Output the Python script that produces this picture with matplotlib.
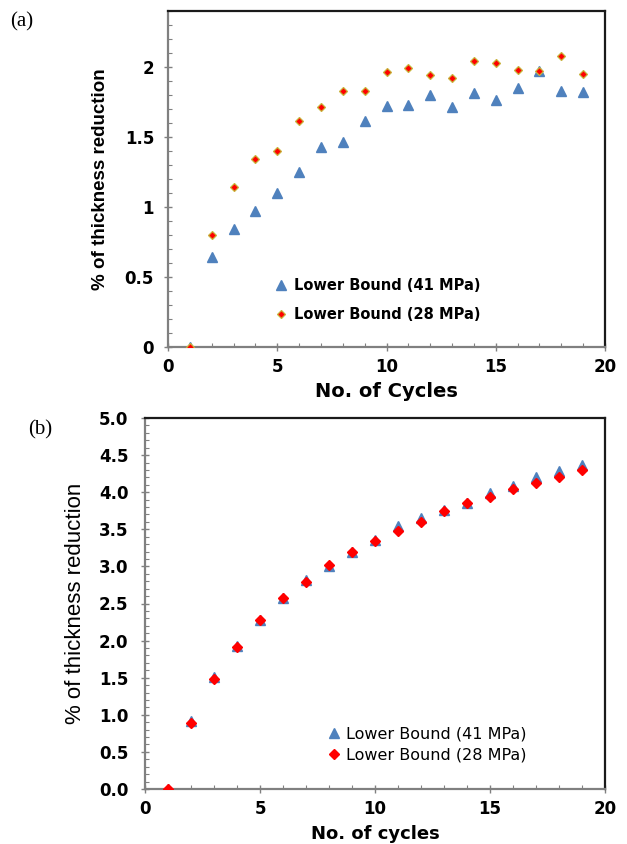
import matplotlib
matplotlib.use("Agg")
import matplotlib.pyplot as plt
from matplotlib.ticker import MultipleLocator

plt.rcParams['font.family'] = ['DejaVu Sans']

cycles = list(range(1, 20))

# Panel (a)
a_41 = [0.0, 0.64, 0.84, 0.97, 1.10, 1.25, 1.43, 1.46, 1.61, 1.72, 1.73, 1.80,
        1.71, 1.81, 1.76, 1.85, 1.97, 1.83, 1.82]
a_28 = [0.0, 0.80, 1.14, 1.34, 1.40, 1.61, 1.71, 1.83, 1.83, 1.96, 1.99, 1.94,
        1.92, 2.04, 2.03, 1.98, 1.97, 2.08, 1.95]

# Panel (b)
b_41 = [0.0, 0.91, 1.51, 1.93, 2.28, 2.57, 2.82, 3.00, 3.19, 3.35, 3.54, 3.65,
        3.76, 3.86, 3.99, 4.08, 4.20, 4.28, 4.36]
b_28 = [0.0, 0.89, 1.48, 1.92, 2.28, 2.57, 2.79, 3.02, 3.19, 3.34, 3.48, 3.60,
        3.75, 3.86, 3.94, 4.04, 4.12, 4.21, 4.30]

labels = ['Lower Bound (41 MPa)', 'Lower Bound (28 MPa)']
blue = '#4F81BD'
red = '#FF0000'

W, H = 627, 844
fig = plt.figure(figsize=(W / 100, H / 100), dpi=100)


def ax_rect(l, t, r, b):
    return [l / W, 1 - b / H, (r - l) / W, (b - t) / H]


def style(ax):
    for s in ['left', 'bottom']:
        ax.spines[s].set_color('#808080')
        ax.spines[s].set_linewidth(1.6)
    for s in ['top', 'right']:
        ax.spines[s].set_color('#1a1a1a')
        ax.spines[s].set_linewidth(1.6)
    ax.tick_params(which='major', direction='inout', length=6, width=1.0,
                   color='#808080', labelsize=12, top=False, right=False)
    ax.tick_params(which='minor', direction='in', length=3, width=0.8,
                   color='#808080', top=False, right=False)
    for lab in ax.get_xticklabels() + ax.get_yticklabels():
        lab.set_fontweight('bold')


# ---------- (a) ----------
ax1 = fig.add_axes(ax_rect(168, 10.7, 605, 347))
ax1.plot(cycles, a_41, linestyle='none', marker='^', ms=7, color=blue,
         mec=blue, label=labels[0], zorder=3)
ax1.plot(cycles, a_28, linestyle='none', marker='D', ms=4.3, color=red,
         mec='#C8B43C', mew=0.9, label=labels[1], zorder=4)
ax1.set_xlim(0, 20)
ax1.set_ylim(0, 2.4)
ax1.set_xticks([0, 5, 10, 15, 20])
ax1.xaxis.set_minor_locator(MultipleLocator(1))
ax1.set_yticks([0, 0.5, 1, 1.5, 2])
ax1.set_yticklabels(['0', '0.5', '1', '1.5', '2'])
ax1.yaxis.set_minor_locator(MultipleLocator(0.1))
style(ax1)
ax1.tick_params(axis='x', which='major', pad=5)
ax1.tick_params(axis='y', which='major', pad=7)
ax1.set_xlabel('No. of Cycles', fontsize=14, fontweight='bold')
ax1.set_ylabel('% of thickness reduction', fontsize=13.5, fontweight='bold',
               family='Liberation Sans')
ax1.yaxis.set_label_coords(-0.135, 0.5)
ax1.xaxis.set_label_coords(0.5, -0.105)
ax1.legend(loc='center left', bbox_to_anchor=(0.246, 0.14), frameon=False,
           prop={'weight': 'bold', 'size': 10.5}, handlelength=0.8,
           handletextpad=0.5, borderpad=0, borderaxespad=0, labelspacing=0.95)
fig.text(10 / W, 1 - 22 / H, '(a)', family='Liberation Serif', fontsize=15,
         va='center', ha='left')

# ---------- (b) ----------
ax2 = fig.add_axes(ax_rect(145, 418, 605, 789))
ax2.plot(cycles, b_41, linestyle='none', marker='^', ms=7, color=blue,
         mec=blue, label=labels[0], zorder=3)
ax2.plot(cycles, b_28, linestyle='none', marker='D', ms=5, color=red,
         mec=red, label=labels[1], zorder=4)
ax2.set_xlim(0, 20)
ax2.set_ylim(0, 5.0)
ax2.set_xticks([0, 5, 10, 15, 20])
ax2.xaxis.set_minor_locator(MultipleLocator(1))
ax2.set_yticks([i * 0.5 for i in range(11)])
ax2.set_yticklabels([f'{i * 0.5:.1f}' for i in range(11)])
ax2.yaxis.set_minor_locator(MultipleLocator(0.1))
style(ax2)
ax2.tick_params(axis='x', which='major', pad=5)
ax2.tick_params(axis='y', which='major', pad=9)
ax2.set_xlabel('No. of cycles', fontsize=13, fontweight='bold')
ax2.set_ylabel('% of thickness reduction', fontsize=16, family='Liberation Sans')
ax2.yaxis.set_label_coords(-0.128, 0.5)
ax2.xaxis.set_label_coords(0.5, -0.098)
ax2.legend(loc='center left', bbox_to_anchor=(0.397, 0.12), frameon=False,
           prop={'size': 11.5}, handlelength=0.8, handletextpad=0.35,
           borderpad=0, borderaxespad=0, labelspacing=0.35)
fig.text(28 / W, 1 - 430 / H, '(b)', family='Liberation Serif', fontsize=15,
         va='center', ha='left')

fig.savefig('out.png', dpi=100)
